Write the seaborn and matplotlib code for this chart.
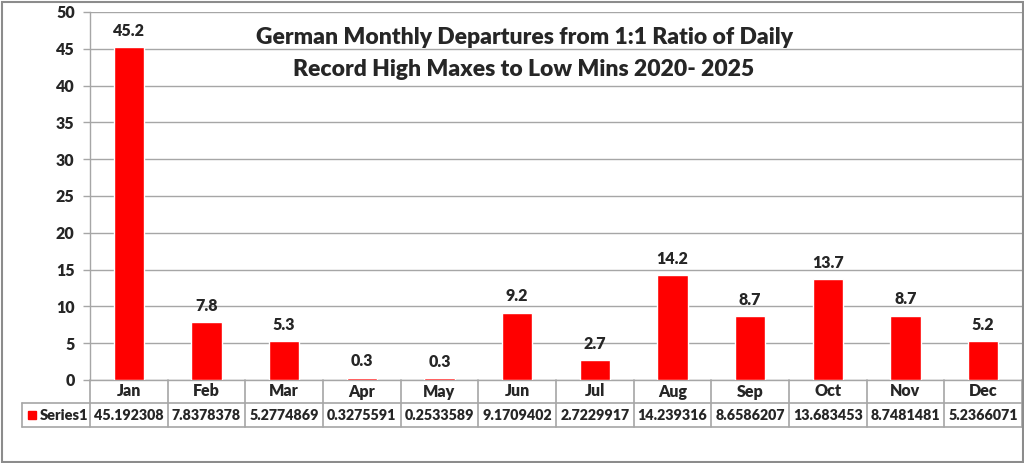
import matplotlib
matplotlib.use("Agg")
import matplotlib.pyplot as plt
import matplotlib.transforms as mtransforms
from matplotlib.lines import Line2D
from matplotlib.patches import Rectangle
import seaborn as sns
import pandas as pd

months = ["Jan", "Feb", "Mar", "Apr", "May", "Jun", "Jul", "Aug", "Sep", "Oct", "Nov", "Dec"]
values = [45.192308, 7.8378378, 5.2774869, 0.3275591, 0.2533589, 9.1709402,
          2.7229917, 14.239316, 8.6586207, 13.683453, 8.7481481, 5.2366071]
value_text = ["45.192308", "7.8378378", "5.2774869", "0.3275591", "0.2533589", "9.1709402",
              "2.7229917", "14.239316", "8.6586207", "13.683453", "8.7481481", "5.2366071"]
series_name = "Series1"
title_lines = ["German Monthly Departures from 1:1 Ratio of Daily",
               "Record High Maxes to Low Mins 2020- 2025"]

sns.set_theme(style="white")
plt.rcParams['font.family'] = ['Lato', 'DejaVu Sans']

W, H = 1024, 463
fig = plt.figure(figsize=(W / 100, H / 100), dpi=100)
L, R, T, B = 90, 1022, 12, 380
ax = fig.add_axes([L / W, (H - B) / H, (R - L) / W, (B - T) / H])

df = pd.DataFrame({"month": months, "value": values})
sns.barplot(data=df, x="month", y="value", color="#ff0000", saturation=1,
            width=0.39, ax=ax, zorder=3)

grid_c = "#a6a6a6"
ax.set_ylim(0, 50)
ax.set_xlim(-0.5, len(months) - 0.5)
ax.set_yticks(range(0, 51, 5))
ax.yaxis.grid(True, color=grid_c, lw=1)
ax.set_axisbelow(True)
for s in ["top", "right"]:
    ax.spines[s].set_visible(False)
ax.spines["left"].set_color(grid_c)
ax.spines["bottom"].set_color(grid_c)
ax.spines["left"].set_linewidth(1)
ax.spines["bottom"].set_linewidth(1)
ax.tick_params(axis="y", left=True, length=5, color=grid_c, width=1,
               labelsize=11.5, pad=6)
for lab in ax.get_yticklabels():
    lab.set_fontweight("heavy")
ax.set_xticks([])
ax.set_xlabel("")
ax.set_ylabel("")

# data labels
for i, v in enumerate(values):
    ax.annotate(f"{v:.1f}", (i, v), xytext=(0, 6), textcoords="offset points",
                ha="center", va="bottom", fontsize=11.5, fontweight="heavy")

# data table
col_w = (R - L) / len(months)
trans = mtransforms.blended_transform_factory(ax.transData, ax.transAxes)
def yfrac(py):
    return (B - py) / (B - T)
y_top, y_mid, y_bot = yfrac(380), yfrac(403), yfrac(427)
x_lbl = -0.5 - (L - 22) / col_w
kw = dict(color=grid_c, lw=1.2, transform=trans, clip_on=False)
ax.add_line(Line2D([-0.5, len(months) - 0.5], [y_mid, y_mid], **kw))
ax.add_line(Line2D([x_lbl, len(months) - 0.5], [y_bot, y_bot], **kw))
ax.add_line(Line2D([x_lbl, -0.5], [y_mid, y_mid], **kw))
ax.add_line(Line2D([x_lbl, x_lbl], [y_mid, y_bot], **kw))
for k in range(len(months) + 1):
    xb = k - 0.5
    ax.add_line(Line2D([xb, xb], [y_top, y_bot], **kw))
for i, (m, t) in enumerate(zip(months, value_text)):
    ax.text(i, (y_top + y_mid) / 2, m, transform=trans, ha="center", va="center",
            fontsize=11.5, fontweight="heavy")
    ax.text(i, (y_mid + y_bot) / 2, t, transform=trans, ha="center", va="center",
            fontsize=10.3, fontweight="heavy")
# legend key in table
fig.patches.append(Rectangle((28 / W, (H - 419) / H), 8 / W, 8 / H,
                             transform=fig.transFigure, color="#ff0000"))
fig.text(40 / W, (H - 415) / H, series_name, ha="left", va="center",
         fontsize=10.5, fontweight="heavy")

# title
fig.text(524 / W, (H - 38) / H, title_lines[0], ha="center", va="center",
         fontsize=16.5, fontweight="heavy")
fig.text(524 / W, (H - 70) / H, title_lines[1], ha="center", va="center",
         fontsize=16.5, fontweight="heavy")

# outer border
fig.patches.append(Rectangle((1.5 / W, 1.5 / H), (W - 3) / W, (H - 3) / H,
                             transform=fig.transFigure, fill=False,
                             edgecolor="#8c8c8c", lw=1.5))

fig.savefig("out.png", dpi=100)
